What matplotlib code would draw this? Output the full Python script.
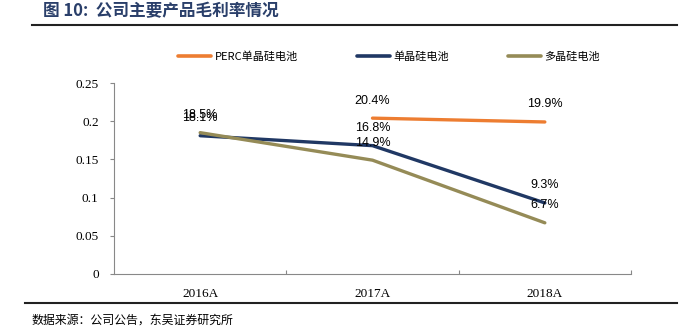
import matplotlib
matplotlib.use("Agg")
import matplotlib.pyplot as plt
from matplotlib.lines import Line2D
import numpy as np

plt.rcParams['font.family'] = ['Noto Sans CJK SC', 'DejaVu Sans']

# Gross margin by product line
years = ["2016A", "2017A", "2018A"]
perc_mono = [np.nan, 0.204, 0.199]
mono = [0.181, 0.168, 0.093]
multi = [0.185, 0.149, 0.067]
yticks = [0, 0.05, 0.1, 0.15, 0.2, 0.25]
ytick_labels = ["0", "0.05", "0.1", "0.15", "0.2", "0.25"]

series = [
    ("PERC单晶硅电池", perc_mono, "#ED7D31"),
    ("单晶硅电池", mono, "#203864"),
    ("多晶硅电池", multi, "#958B57"),
]

fig = plt.figure(figsize=(6.97, 3.31), dpi=100)
ax = fig.add_axes([114 / 697, 1 - 274 / 331, 517 / 697, 191 / 331])

x = np.arange(len(years))
for name, vals, color in series:
    ax.plot(x, vals, color=color, lw=2.4, label=name, solid_capstyle="round")
    for xi, v in zip(x, vals):
        if np.isnan(v):
            continue
        ax.annotate(f"{v * 100:.1f}%", (xi, v), xytext=(0, 12.6),
                    textcoords="offset points", ha="center", va="center",
                    fontsize=9, family=["Liberation Sans"], color="#000000")

ax.set_xlim(-0.5, 2.5)
ax.set_ylim(0, 0.25)
ax.set_yticks(yticks)
ax.set_yticklabels(ytick_labels, family=["Liberation Serif"], fontsize=9.5)
ax.set_xticks(x)
ax.set_xticklabels(years, family=["Liberation Serif"], fontsize=9.5)
ax.tick_params(axis="x", length=0, pad=10)
ax.tick_params(axis="y", length=3, width=0.8, color="#888888", pad=8)
# category boundary ticks on the x axis
ax.set_xticks([0.5, 1.5, 2.5], minor=True)
ax.tick_params(axis="x", which="minor", direction="in", length=3,
               width=0.8, color="#888888")
for s in ["top", "right"]:
    ax.spines[s].set_visible(False)
for s in ["left", "bottom"]:
    ax.spines[s].set_color("#888888")
    ax.spines[s].set_linewidth(0.8)

leg = ax.legend(loc="center", bbox_to_anchor=(389 / 697, 1 - 57 / 331),
                bbox_transform=fig.transFigure, ncol=3, frameon=False,
                fontsize=8, handlelength=3.0, handletextpad=0.3,
                columnspacing=5.3)
for line in leg.get_lines():
    line.set_linewidth(2.6)

fig.text(43 / 697, 1 - 11 / 331, "图 10:  公司主要产品毛利率情况", fontsize=12,
         fontweight="bold", color="#2A3F6A", ha="left", va="center")
fig.add_artist(Line2D([32 / 697, 677 / 697], [1 - 25 / 331, 1 - 25 / 331],
                      transform=fig.transFigure, color="#222222", lw=1.5))
fig.add_artist(Line2D([25 / 697, 677 / 697], [1 - 303 / 331, 1 - 303 / 331],
                      transform=fig.transFigure, color="#222222", lw=1.5))
fig.text(32 / 697, 1 - 320 / 331, "数据来源：公司公告，东吴证券研究所", fontsize=8.6,
         color="#000000", ha="left", va="center")

fig.savefig("out.png", dpi=100)
